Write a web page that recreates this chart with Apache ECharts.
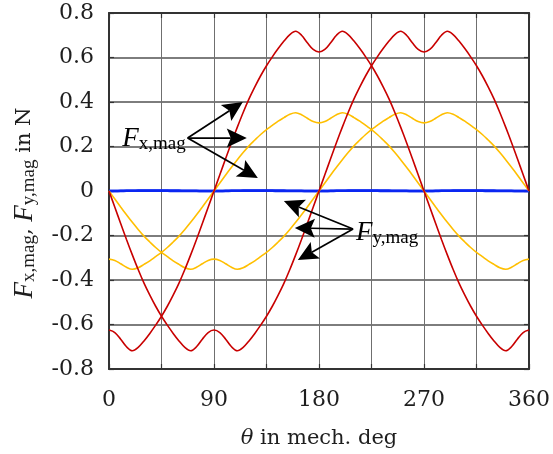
<!DOCTYPE html>
<html>
<head>
<meta charset="utf-8">
<script src="https://cdn.jsdelivr.net/npm/echarts@6/dist/echarts.min.js"></script>
<style>
  html, body { margin: 0; padding: 0; background: #fff; }
  #chart { width: 553px; height: 454px; }
</style>
</head>
<body>
<div id="chart"></div>
<script>
// Rotor angle in mechanical degrees
const theta = [0,5,10,15,20,25,30,35,40,45,50,55,60,65,70,75,80,85,90,95,100,105,110,115,120,125,130,135,140,145,150,155,160,165,170,175,180,185,190,195,200,205,210,215,220,225,230,235,240,245,250,255,260,265,270,275,280,285,290,295,300,305,310,315,320,325,330,335,340,345,350,355,360];

// Magnetic force components (N), case 1 (red)
const fxMag1 = [-0.625,-0.636,-0.666,-0.700,-0.718,-0.703,-0.674,-0.640,-0.603,-0.563,-0.518,-0.468,-0.414,-0.353,-0.287,-0.218,-0.146,-0.073,0,
  0.073,0.146,0.218,0.287,0.353,0.414,0.468,0.518,0.563,0.603,0.640,0.674,0.703,0.718,0.700,0.666,0.636,0.625,
  0.636,0.666,0.700,0.718,0.703,0.674,0.640,0.603,0.563,0.518,0.468,0.414,0.353,0.287,0.218,0.146,0.073,0,
  -0.073,-0.146,-0.218,-0.287,-0.353,-0.414,-0.468,-0.518,-0.563,-0.603,-0.640,-0.674,-0.703,-0.718,-0.700,-0.666,-0.636,-0.625];
const fyMag1 = [0,-0.073,-0.146,-0.218,-0.287,-0.353,-0.414,-0.468,-0.518,-0.563,-0.603,-0.640,-0.674,-0.703,-0.718,-0.700,-0.666,-0.636,-0.625,
  -0.636,-0.666,-0.700,-0.718,-0.703,-0.674,-0.640,-0.603,-0.563,-0.518,-0.468,-0.414,-0.353,-0.287,-0.218,-0.146,-0.073,0,
  0.073,0.146,0.218,0.287,0.353,0.414,0.468,0.518,0.563,0.603,0.640,0.674,0.703,0.718,0.700,0.666,0.636,0.625,
  0.636,0.666,0.700,0.718,0.703,0.674,0.640,0.603,0.563,0.518,0.468,0.414,0.353,0.287,0.218,0.146,0.073,0];

// Case 2 (yellow)
const fxMag2 = [-0.306,-0.312,-0.327,-0.343,-0.352,-0.345,-0.330,-0.314,-0.295,-0.276,-0.254,-0.229,-0.203,-0.173,-0.141,-0.107,-0.072,-0.036,0,
  0.036,0.072,0.107,0.141,0.173,0.203,0.229,0.254,0.276,0.295,0.314,0.330,0.345,0.352,0.343,0.327,0.312,0.306,
  0.312,0.327,0.343,0.352,0.345,0.330,0.314,0.295,0.276,0.254,0.229,0.203,0.173,0.141,0.107,0.072,0.036,0,
  -0.036,-0.072,-0.107,-0.141,-0.173,-0.203,-0.229,-0.254,-0.276,-0.295,-0.314,-0.330,-0.345,-0.352,-0.343,-0.327,-0.312,-0.306];
const fyMag2 = [0,-0.036,-0.072,-0.107,-0.141,-0.173,-0.203,-0.229,-0.254,-0.276,-0.295,-0.314,-0.330,-0.345,-0.352,-0.343,-0.327,-0.312,-0.306,
  -0.312,-0.327,-0.343,-0.352,-0.345,-0.330,-0.314,-0.295,-0.276,-0.254,-0.229,-0.203,-0.173,-0.141,-0.107,-0.072,-0.036,0,
  0.036,0.072,0.107,0.141,0.173,0.203,0.229,0.254,0.276,0.295,0.314,0.330,0.345,0.352,0.343,0.327,0.312,0.306,
  0.312,0.327,0.343,0.352,0.345,0.330,0.314,0.295,0.276,0.254,0.229,0.203,0.173,0.141,0.107,0.072,0.036,0];

// Case 3 (blue), almost zero
const fxMag3 = [0,0,0.001,0.001,0.001,0.002,0.002,0.002,0.002,0.002,0.002,0.002,0.002,0.001,0.001,0.001,0,0,0,
  0,0.001,0.001,0.001,0.002,0.002,0.002,0.002,0.002,0.002,0.002,0.002,0.001,0.001,0.001,0,0,0,
  0,0.001,0.001,0.001,0.002,0.002,0.002,0.002,0.002,0.002,0.002,0.002,0.001,0.001,0.001,0,0,0,
  0,0.001,0.001,0.001,0.002,0.002,0.002,0.002,0.002,0.002,0.002,0.002,0.001,0.001,0.001,0,0,0];
const fyMag3 = [0,0,0,0.001,0.001,0.001,0.001,0.001,0.001,0.001,0.001,0,0,0,0,0,0,0,0,
  0,0,0.001,0.001,0.001,0.001,0.001,0.001,0.001,0.001,0,0,0,0,0,0,0,0,
  0,0,0.001,0.001,0.001,0.001,0.001,0.001,0.001,0.001,0,0,0,0,0,0,0,0,
  0,0,0.001,0.001,0.001,0.001,0.001,0.001,0.001,0.001,0,0,0,0,0,0,0,0];

// Axis ticks
const xTicks = [0, 90, 180, 270, 360];
const yTicks = [-0.8, -0.6, -0.4, -0.2, 0, 0.2, 0.4, 0.6, 0.8];

// Annotation arrows (data units): common tail point and the arrow tips
const fxArrowFrom = [67.4, 0.238];
const fxArrowTo = [[114.7, 0.40], [118.1, 0.238], [127.6, 0.058]];
const fyArrowFrom = [209.2, -0.171];
const fyArrowTo = [[149.9, -0.045], [159.3, -0.166], [161.9, -0.31]];

const textFont = 'DejaVu Serif';
const mathFont = 'Liberation Serif';
const ink = '#1e1e1e';

const mathRich = {
  f: { fontFamily: mathFont, fontStyle: 'italic', fontSize: 27, color: ink },
  s: { fontFamily: mathFont, fontSize: 19, color: ink, padding: [10, 0, 0, 0] },
  t: { fontFamily: textFont, fontSize: 21, color: ink },
  th: { fontFamily: textFont, fontStyle: 'italic', fontSize: 21, color: ink }
};

const pairs = ys => theta.map((t, i) => [t, ys[i]]);
const curve = (name, ys, color, width, z) => ({
  name, type: 'line', data: pairs(ys), showSymbol: false, smooth: 0.35,
  lineStyle: { color, width }, z, silent: true
});

const frameAxisCommon = {
  axisLine: { show: true, onZero: false, lineStyle: { color: '#333', width: 2 } },
  axisTick: { show: true, inside: true, length: 5, lineStyle: { color: '#333', width: 1.2 } }
};

const chart = echarts.init(document.getElementById('chart'), null, { renderer: 'canvas' });

chart.setOption({
  animation: false,
  grid: { left: 109, right: 24, top: 13, bottom: 85, containLabel: false },
  xAxis: [
    Object.assign({
      type: 'value', min: 0, max: 360, interval: 45, position: 'bottom',
      axisLabel: {
        margin: 20, fontFamily: textFont, fontSize: 22, color: ink,
        formatter: v => xTicks.includes(v) ? String(v) : ''
      },
      splitLine: { show: true, lineStyle: { color: '#6f6f6f', width: 1 } },
      name: '{th|θ}{t| in mech. deg}', nameLocation: 'middle', nameGap: 59,
      nameTextStyle: { rich: mathRich }
    }, frameAxisCommon),
    Object.assign({
      type: 'value', min: 0, max: 360, interval: 45, position: 'top',
      axisLabel: { show: false }, splitLine: { show: false }
    }, frameAxisCommon)
  ],
  yAxis: [
    Object.assign({
      type: 'value', min: -0.8, max: 0.8, interval: 0.2, position: 'left',
      axisLabel: {
        margin: 15, fontFamily: textFont, fontSize: 22, color: ink,
        formatter: v => {
          const r = Math.round(v * 10) / 10;
          return yTicks.includes(r) ? String(r) : '';
        }
      },
      splitLine: { show: true, lineStyle: { color: '#7d7d7d', width: 2 } },
      name: '{f|F}{s|x,mag}{t|, }{f|F}{s|y,mag}{t| in N}',
      nameLocation: 'middle', nameGap: 70, nameRotate: 90,
      nameTextStyle: { rich: mathRich, padding: [0, 24, 0, 0] }
    }, frameAxisCommon),
    Object.assign({
      type: 'value', min: -0.8, max: 0.8, interval: 0.2, position: 'right',
      axisLabel: { show: false }, splitLine: { show: false }
    }, frameAxisCommon)
  ],
  series: [
    curve('Fx,mag case 3', fxMag3, '#0a26f2', 2.5, 2),
    curve('Fy,mag case 3', fyMag3, '#0a26f2', 2.5, 2),
    curve('Fx,mag case 2', fxMag2, '#ffbf00', 1.6, 3),
    curve('Fy,mag case 2', fyMag2, '#ffbf00', 1.6, 3),
    curve('Fx,mag case 1', fxMag1, '#c80000', 1.6, 4),
    curve('Fy,mag case 1', fyMag1, '#c80000', 1.6, 4)
  ]
});

// Annotation arrows and labels, anchored in data coordinates
const px = p => chart.convertToPixel({ gridIndex: 0 }, p);
const headLen = 20, headHalf = 9.5;
function arrow(fromData, toData) {
  const a = px(fromData), b = px(toData);
  const dx = b[0] - a[0], dy = b[1] - a[1];
  const len = Math.hypot(dx, dy);
  const ux = dx / len, uy = dy / len, nx = -uy, ny = ux;
  const baseX = b[0] - ux * headLen, baseY = b[1] - uy * headLen;
  const notchX = b[0] - ux * headLen * 0.8, notchY = b[1] - uy * headLen * 0.8;
  return [
    { type: 'line', silent: true, z: 50,
      shape: { x1: a[0], y1: a[1], x2: notchX, y2: notchY },
      style: { stroke: '#000', lineWidth: 1.7 } },
    { type: 'polygon', silent: true, z: 51,
      shape: { points: [[b[0], b[1]], [baseX + nx * headHalf, baseY + ny * headHalf], [notchX, notchY], [baseX - nx * headHalf, baseY - ny * headHalf]] },
      style: { fill: '#000' } }
  ];
}

const fxTail = px(fxArrowFrom), fyTail = px(fyArrowFrom);
const graphics = [];
fxArrowTo.forEach(t => graphics.push(...arrow(fxArrowFrom, t)));
fyArrowTo.forEach(t => graphics.push(...arrow(fyArrowFrom, t)));
graphics.push({
  type: 'text', silent: true, z: 60, x: fxTail[0] - 2, y: fxTail[1] + 1,
  style: { text: '{f|F}{s|x,mag}', rich: mathRich, align: 'right', verticalAlign: 'middle', textAlign: 'right', textVerticalAlign: 'middle' }
});
graphics.push({
  type: 'text', silent: true, z: 60, x: fyTail[0] + 3, y: fyTail[1] + 4,
  style: { text: '{f|F}{s|y,mag}', rich: mathRich, align: 'left', verticalAlign: 'middle', textAlign: 'left', textVerticalAlign: 'middle' }
});
chart.setOption({ graphic: graphics });
</script>
</body>
</html>
